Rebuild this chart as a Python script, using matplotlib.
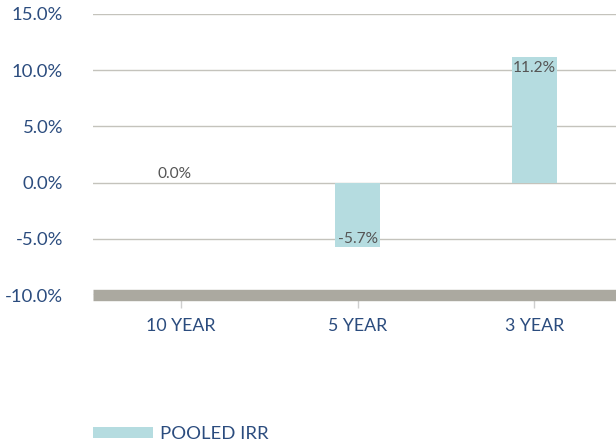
import matplotlib
matplotlib.use("Agg")
import matplotlib.pyplot as plt
from matplotlib.ticker import FuncFormatter

categories = ["10 YEAR", "5 YEAR", "3 YEAR"]
pooled_irr = [0.0, -5.7, 11.2]
series_name = "POOLED IRR"

plt.rcParams['font.family'] = ['Lato', 'DejaVu Sans']
navy = "#2b4c7e"
bar_color = "#b5dce0"

fig = plt.figure(figsize=(6.16, 4.47), dpi=100)
W, H = 616, 447
left = 93 / W
width = (3 * 176.5) / W
bottom = 1 - 295 / H
height = (295 - 14) / H
ax = fig.add_axes([left, bottom, width, height])

x = range(len(categories))
bars = ax.bar(x, pooled_irr, width=0.255, color=bar_color, zorder=2, label=series_name)
ax.set_xlim(-0.5, len(categories) - 0.5)
ax.set_ylim(-10, 15)
ax.set_yticks([-10, -5, 0, 5, 10, 15])
ax.yaxis.set_major_formatter(FuncFormatter(lambda v, p: f"{v:.1f}%"))
ax.grid(axis='y', color="#c4c3bc", linewidth=1.0, zorder=0)
ax.set_axisbelow(True)
for s in ax.spines.values():
    s.set_visible(False)
ax.axhline(-10, color="#aba9a0", linewidth=8.2, zorder=3, clip_on=False,
           solid_capstyle='butt')
ax.set_xticks(list(x))
ax.set_xticklabels(categories)
ax.tick_params(axis='x', length=9.5, width=1, color="#cfcfcf", pad=7, labelsize=12.8, labelcolor=navy)
ax.tick_params(axis='y', length=0, pad=21.5, labelsize=13.3, labelcolor=navy)

for xi, v in zip(x, pooled_irr):
    dx = 0
    if v > 0:
        off = -11
    elif v < 0:
        off = 8
    else:
        off = 9
        dx = -5
    ax.annotate(f"{v:.1f}%", (xi, v), xytext=(dx, off * 0.72), textcoords='offset points',
                ha='center', va='center', fontsize=11.2, color="#555555", zorder=4)

fig.legend(handles=[bars], labels=[series_name], loc='center left',
           bbox_to_anchor=(86 / W, 1 - 434 / H), frameon=False,
           fontsize=13.3, labelcolor=navy, handlelength=3.2, handleheight=0.6,
           handletextpad=0.43, borderaxespad=0)

fig.savefig("out.png", dpi=100)
